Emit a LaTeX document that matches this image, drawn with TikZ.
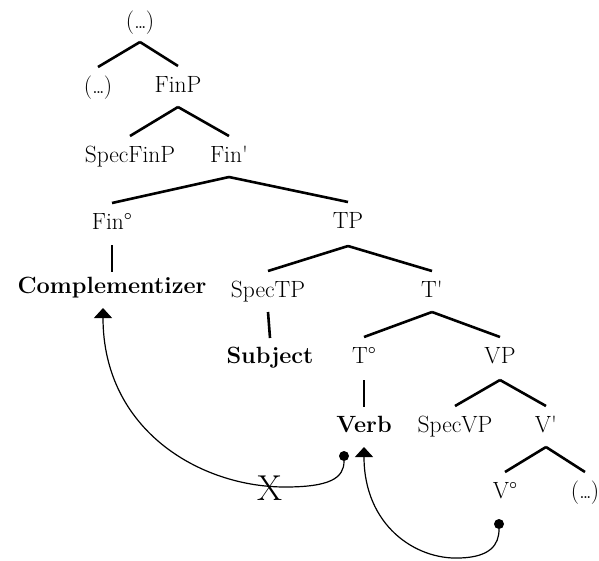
\documentclass[tikz,border=0pt]{standalone}
\usetikzlibrary{arrows.meta}
\newcommand{\eld}{(.\kern-2.5pt.\kern-2.5pt.\kern-1pt)}
\begin{document}
\begin{tikzpicture}[x=1pt,y=-1pt,
  lbl/.style={anchor=base,inner sep=0pt,font=\fontsize{23.5}{28}\selectfont},
  blbl/.style={lbl,font=\fontsize{23.5}{28}\selectfont\bfseries},
  branch/.style={line width=2.6pt},
  curve/.style={line width=1.2pt},
  tip/.style={-{Triangle[width=18pt,length=10pt]}},
  dot/.style={circle,fill=black,inner sep=0pt,minimum size=10pt}]
\useasboundingbox (0,0) rectangle (599,560);
% nodes
\node[lbl] (top) at (140,28) {\eld};
\node[lbl] (dl) at (98,93) {\eld};
\node[lbl] (finp) at (178,92) {FinP};
\node[lbl] (specfinp) at (130,162) {SpecFinP};
\node[lbl] (finbar) at (229,162) {Fin\textquotesingle};
\node[lbl] (fin0) at (112,229) {Fin°};
\node[lbl] (tp) at (348,228) {TP};
\node[blbl] (comp) at (112,293) {Complementizer};
\node[lbl] (spectp) at (268,297) {SpecTP};
\node[lbl] (tbar) at (432,297) {T\textquotesingle};
\node[blbl] (subj) at (270,363) {Subject};
\node[lbl] (t0) at (364,363) {T°};
\node[lbl] (vp) at (500,363) {VP};
\node[blbl] (verb) at (364,432) {Verb};
\node[lbl] (specvp) at (455,432) {SpecVP};
\node[lbl] (vbar) at (546,432) {V\textquotesingle};
\node[lbl] (v0) at (505,498) {V°};
\node[lbl] (dr) at (585,498) {\eld};
% branches
\foreach \p/\c/\a in {top/dl/14,top/finp/14,finp/specfinp/15,finp/finbar/15,
  finbar/fin0/15,finbar/tp/15,tp/spectp/18,tp/tbar/18,tbar/t0/15,tbar/vp/15,
  vp/specvp/17,vp/vbar/17,vbar/v0/15,vbar/dr/15}
  \draw[branch] ([yshift=-\a pt]\p.base) -- ([yshift=26pt]\c.base);
\draw[branch] ([yshift=-16pt]fin0.base) -- ([yshift=21pt]comp.base);
\draw[branch] ([yshift=-15pt]spectp.base) -- ([yshift=25pt]subj.base);
\draw[branch] ([yshift=-17pt]t0.base) -- ([yshift=25pt]verb.base);
% movement arrows
\node[dot] (d1) at (344,456) {};
\node[dot] (d2) at (499,524) {};
\coordinate (a1) at (103,308);
\coordinate (a2) at (364,447);
\draw[curve,tip] (d1.south) .. controls (344,478) and (330,487) .. (285,487)
   .. controls (200,487) and (103,430) .. (a1);
\draw[curve,tip] (d2.south) .. controls (499,545) and (490,557) .. (460,558)
   .. controls (415,560) and (364,525) .. (a2);
\node[inner sep=0pt,font=\fontsize{36}{40}\selectfont] (x) at (270,488) {X};
\end{tikzpicture}
\end{document}
